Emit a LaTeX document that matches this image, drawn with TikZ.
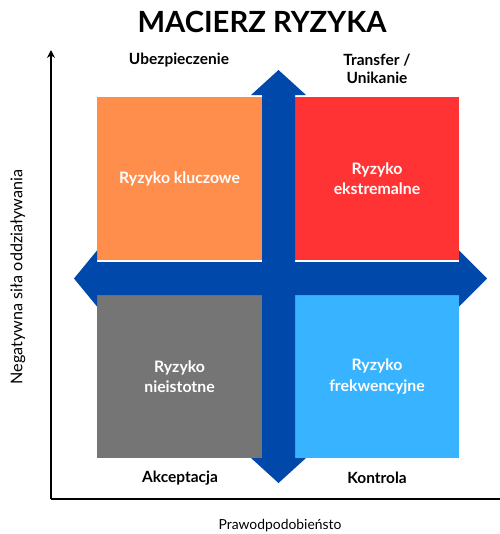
\documentclass[tikz,border=0pt]{standalone}
\usepackage{fontspec}
\setmainfont{Lato}
\usetikzlibrary{arrows.meta}
\definecolor{riskorange}{RGB}{255,142,76}
\definecolor{riskred}{RGB}{255,51,51}
\definecolor{riskgray}{RGB}{117,117,117}
\definecolor{risklight}{RGB}{56,179,255}
\definecolor{crossblue}{RGB}{0,72,170}

\begin{document}
\begin{tikzpicture}[x=0.02cm, y=-0.02cm, >={Stealth[length=4.5pt, width=4.5pt]},
  quad/.style={minimum width=3.3cm, minimum height=3.26cm, inner sep=0pt, text=white,
    align=center, font=\bfseries\fontsize{9}{11.5}\selectfont},
  strat/.style={align=center, font=\bfseries\fontsize{8.8}{10.5}\selectfont},
  axislabel/.style={font=\fontsize{7.9}{9}\selectfont}]
\useasboundingbox (0,0) rectangle (500,534);
% title
\node[font=\bfseries\fontsize{16.6}{18}\selectfont] (title) at (262,22) {MACIERZ RYZYKA};
% axes
\coordinate (origin) at (51,499);
\coordinate (ytop) at (51,50);
\coordinate (xend) at (500,499);
\draw[->, line width=1pt] (origin) -- (ytop);
\draw[line width=1pt] (origin) -- (xend);
\node[axislabel, font=\fontsize{9.2}{10}\selectfont, rotate=90] (ylab) at (18,277) {Negatywna siła oddziaływania};
\node[axislabel] (xlab) at (280,526) {Prawodpodobieństo};
% four quadrants
\node[quad, fill=riskorange] (kluczowe) at (179.5,178.5) {Ryzyko kluczowe};
\node[quad, fill=riskred] (ekstremalne) at (377,178.5) {Ryzyko\\ekstremalne};
\node[quad, fill=riskgray] (nieistotne) at (179.5,376.5) {Ryzyko\\nieistotne};
\node[quad, fill=risklight] (frekwencyjne) at (377,376.5) {Ryzyko\\frekwencyjne};
% blue cross of double arrows
\fill[crossblue] (278.5,70) -- (306,95) -- (295,95) -- (295,458) -- (306,458)
  -- (278.5,483) -- (251,458) -- (262,458) -- (262,95) -- (251,95) -- cycle;
\fill[crossblue] (74,278.5) -- (97,250.5) -- (97,262) -- (459,262) -- (459,250.5)
  -- (487,278.5) -- (459,306.5) -- (459,295) -- (97,295) -- (97,306.5) -- cycle;
% strategies
\node[strat] (ubezp) at (179,60) {Ubezpieczenie};
\node[strat] (transfer) at (377,69) {Transfer /\\Unikanie};
\node[strat] (akcept) at (180,478) {Akceptacja};
\node[strat] (kontrola) at (377,478) {Kontrola};
\end{tikzpicture}
\end{document}
